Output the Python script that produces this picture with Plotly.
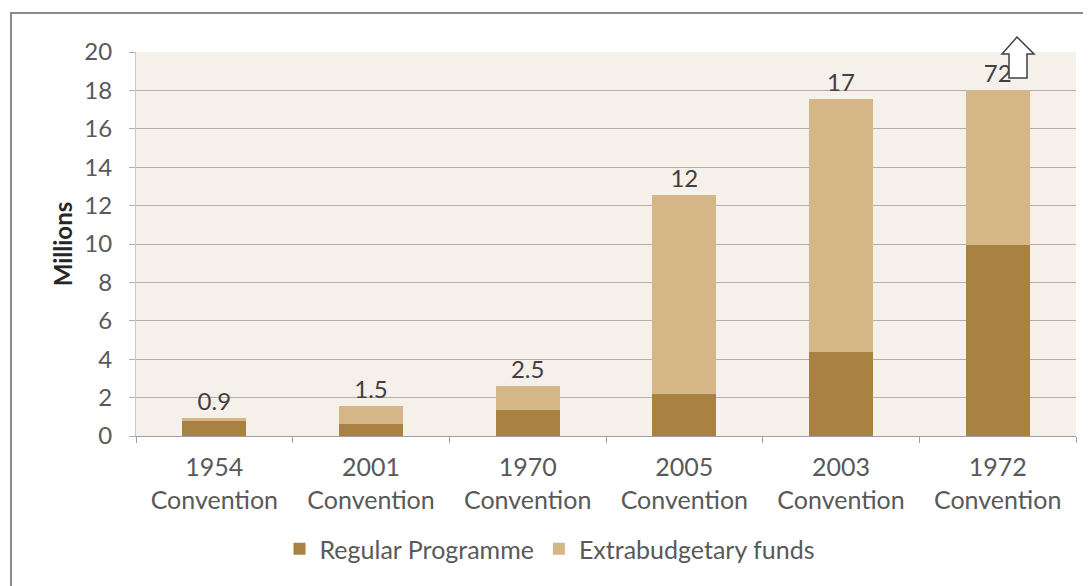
import plotly.graph_objects as go

categories = ["1954<br>Convention", "2001<br>Convention", "1970<br>Convention",
              "2005<br>Convention", "2003<br>Convention", "1972<br>Convention"]
regular = [0.8, 0.6, 1.35, 2.2, 4.4, 9.95]
extra = [0.15, 0.95, 1.25, 10.35, 13.15, 8.05]
labels = ["0.9", "1.5", "2.5", "12", "17", "72"]
y_ticks = [0, 2, 4, 6, 8, 10, 12, 14, 16, 18, 20]

FONT = "Lato"
TXT = "#595959"
FS = 25

fig = go.Figure()
fig.add_trace(go.Bar(x=categories, y=regular, name="Regular Programme",
                     marker=dict(color="#A98242", line=dict(width=0))))
fig.add_trace(go.Bar(x=categories, y=extra, name="Extrabudgetary funds",
                     marker=dict(color="#D5B687", line=dict(width=0)),
                     text=labels, textposition="outside", cliponaxis=False,
                     textfont=dict(family=FONT, size=FS - 1, color="#404040")))

# page has an 8px body margin: figure occupies page pixels 8..1091 x 8..586
OFF = 8
W, H = 1091 - OFF, 586 - OFF
ml, mr, mt, mb = 136 - OFF, 15, 52 - OFF, 150
pw, ph = W - ml - mr, H - mt - mb
left_px, bottom_px = 136, 436


def px(x):
    return (x - left_px) / pw


def py(y):
    return (bottom_px - y) / ph


# outer chart border
fig.add_shape(type="rect", xref="paper", yref="paper",
              x0=px(11), x1=px(1100), y0=py(13), y1=py(600),
              line=dict(color="#8a8a8a", width=2), fillcolor="rgba(0,0,0,0)", layer="below")

# up arrow next to the 72 label
pts = [(1017, 37), (1034, 54), (1027, 54), (1027, 78), (1009, 78), (1009, 54), (1002, 54)]
path = "M " + " L ".join(f"{px(a):.5f},{py(b):.5f}" for a, b in pts) + " Z"
fig.add_shape(type="path", xref="paper", yref="paper", path=path,
              line=dict(color="#404040", width=1.5), fillcolor="white")

fig.update_layout(
    width=W, height=H,
    margin=dict(l=ml, r=mr, t=mt, b=mb),
    barmode="stack", bargap=0.59,
    paper_bgcolor="white", plot_bgcolor="#F6F0EB",
    font=dict(family=FONT, size=FS, color=TXT),
    showlegend=True,
    legend=dict(orientation="h", x=px(550), xanchor="center", y=py(549), yanchor="middle",
                font=dict(family=FONT, size=FS, color=TXT), itemwidth=30,
                traceorder="normal"),
)
fig.update_xaxes(showgrid=False, showline=True, linecolor="#A0A0A0", linewidth=1,
                 ticks="outside", ticklen=6, tickcolor="#A0A0A0",
                 tickson="boundaries", ticklabelstandoff=9,
                 tickfont=dict(family=FONT, size=FS, color=TXT))
fig.update_yaxes(range=[0, 20], tickvals=y_ticks, showgrid=True, gridcolor="#B5AEA8",
                 gridwidth=1, showline=True, linecolor="#C8C8C8", linewidth=1,
                 ticks="outside", ticklen=6, tickcolor="#B5AEA8", zeroline=False,
                 ticklabelstandoff=12,
                 tickfont=dict(family=FONT, size=FS - 1, color=TXT),
                 title=dict(text="<b>Millions</b>", font=dict(family=FONT, size=FS - 1, color="#262626"),
                            standoff=4))

fig.write_html("out.html")
